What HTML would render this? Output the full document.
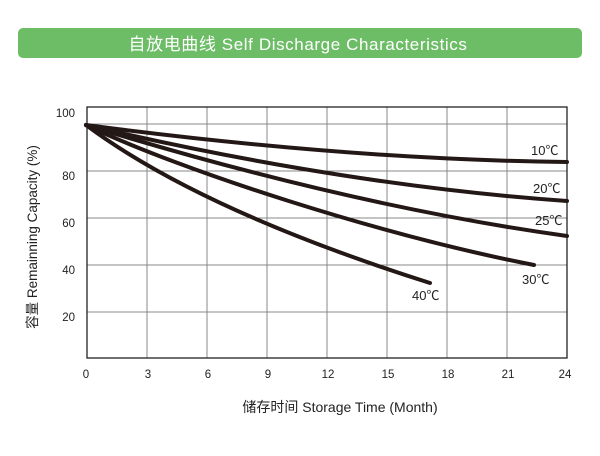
<!DOCTYPE html>
<html><head><meta charset="utf-8"><style>
body{margin:0;background:#fff;}
</style></head><body>
<svg width="600" height="451" viewBox="0 0 600 451" xmlns="http://www.w3.org/2000/svg" font-family="Liberation Sans, Noto Sans CJK SC, sans-serif">
<rect x="18" y="28" width="564" height="30" rx="5" fill="#6cbd66"/>
<text x="298" y="50" font-size="17" letter-spacing="0.6" fill="#fff" text-anchor="middle">自放电曲线 Self Discharge Characteristics</text>
<g stroke="#888" stroke-width="1">
<line x1="87" y1="124" x2="567" y2="124"/>
<line x1="87" y1="171" x2="567" y2="171"/>
<line x1="87" y1="218" x2="567" y2="218"/>
<line x1="87" y1="265" x2="567" y2="265"/>
<line x1="87" y1="312" x2="567" y2="312"/>
<line x1="147" y1="107" x2="147" y2="358"/>
<line x1="207" y1="107" x2="207" y2="358"/>
<line x1="267" y1="107" x2="267" y2="358"/>
<line x1="327" y1="107" x2="327" y2="358"/>
<line x1="387" y1="107" x2="387" y2="358"/>
<line x1="447" y1="107" x2="447" y2="358"/>
<line x1="507" y1="107" x2="507" y2="358"/>
</g>
<rect x="87" y="107" width="480" height="251" fill="none" stroke="#222" stroke-width="1.3"/>
<g fill="none" stroke="#231815" stroke-width="4" stroke-linecap="round">
<path d="M86 125 C200 140 380 160 567 162"/>
<path d="M86 125 C200 152 380 188 567 201"/>
<path d="M86 125 C200 160 380 210 567 236"/>
<path d="M86 125 C180 170 380 235 534 265"/>
<path d="M86 125 Q200 210 430 283"/>
</g>
<g font-size="13" fill="#222">
<text x="531" y="155">10℃</text>
<text x="533" y="193">20℃</text>
<text x="535" y="225">25℃</text>
<text x="522" y="284">30℃</text>
<text x="412" y="300">40℃</text>
</g>
<g font-size="11.5" fill="#222" text-anchor="end">
<text x="75" y="117">100</text>
<text x="75" y="180">80</text>
<text x="75" y="227">60</text>
<text x="75" y="274">40</text>
<text x="75" y="321">20</text>
</g>
<g font-size="11.5" fill="#222" text-anchor="middle">
<text x="86" y="378">0</text>
<text x="148" y="378">3</text>
<text x="208" y="378">6</text>
<text x="268" y="378">9</text>
<text x="328" y="378">12</text>
<text x="388" y="378">15</text>
<text x="448" y="378">18</text>
<text x="508" y="378">21</text>
<text x="565" y="378">24</text>
</g>
<text x="340" y="412" font-size="14" fill="#222" text-anchor="middle">储存时间 Storage Time (Month)</text>
<text transform="translate(37,237) rotate(-90)" font-size="13.5" fill="#222" text-anchor="middle">容量 Remainning Capacity (%)</text>
</svg>
</body></html>
